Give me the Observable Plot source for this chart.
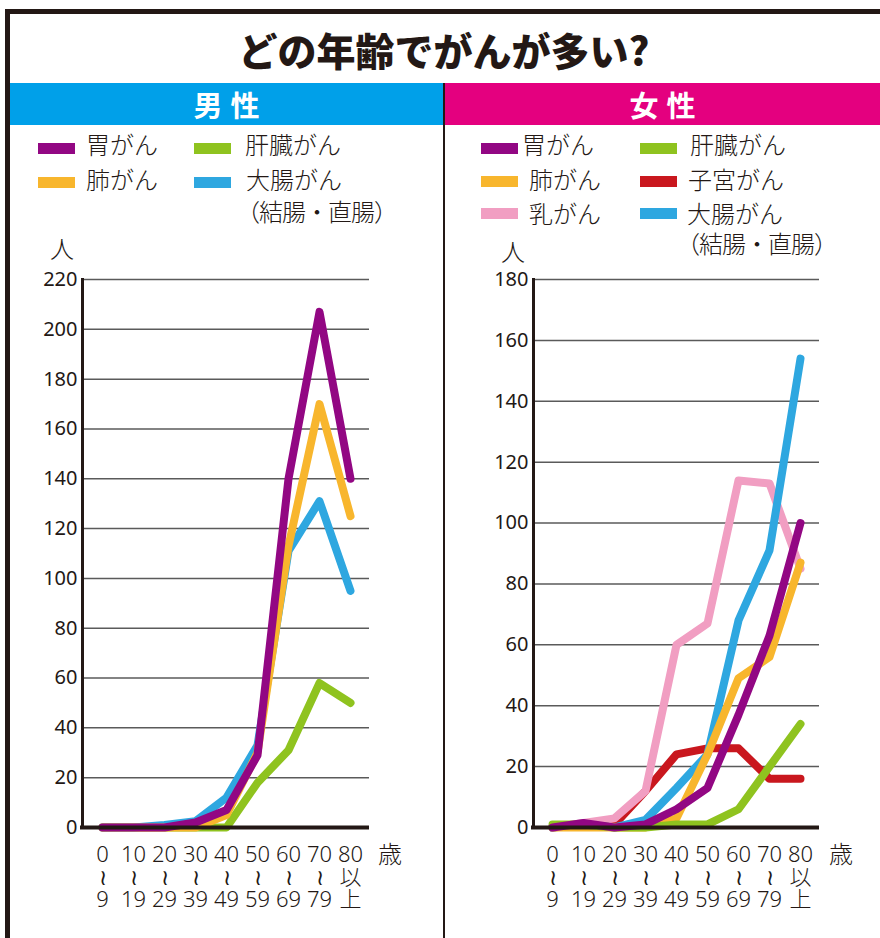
<!DOCTYPE html>
<html><head><meta charset="utf-8">
<script src="https://cdn.jsdelivr.net/npm/d3@7"></script>
<script src="https://cdn.jsdelivr.net/npm/@observablehq/plot@0.6"></script>
<style>
html,body{margin:0;padding:0;background:#fff;}
#page{position:relative;width:880px;height:938px;overflow:hidden;font-family:"Noto Sans CJK JP","Noto Sans",sans-serif;color:#231815;}
.abs{position:absolute;white-space:nowrap;}
.lg{position:absolute;white-space:nowrap;font-size:24px;line-height:24px;font-weight:300;}
.sw{position:absolute;width:37px;height:11px;}
.plot{position:absolute;top:240px;}
</style>
</head><body>
<div id="page">
  <div class="abs" style="left:5px;top:9px;width:880px;height:5px;background:#231815"></div>
  <div class="abs" style="left:5px;top:9px;width:5px;height:929px;background:#231815"></div>
  <div class="abs" style="left:0;width:888px;top:24px;font-size:39px;line-height:50px;font-weight:900;text-align:center;">どの年齢でがんが多い?</div>
  <div class="abs" style="left:10px;top:83px;width:433px;height:42px;background:#00a0e9"></div>
  <div class="abs" style="left:445px;top:83px;width:435px;height:42px;background:#e4007f"></div>
  <div class="abs" style="left:443px;top:83px;width:2px;height:855px;background:#231815"></div>
  <div class="abs" style="left:10px;top:83px;width:433px;padding-left:8px;box-sizing:border-box;text-align:center;color:#fff;font-size:29px;line-height:42px;font-weight:700;letter-spacing:8px;">男性</div>
  <div class="abs" style="left:445px;top:83px;width:435px;padding-left:8px;box-sizing:border-box;text-align:center;color:#fff;font-size:29px;line-height:42px;font-weight:700;letter-spacing:8px;">女性</div>
  <div id="legendM"></div>
  <div id="legendF"></div>
  <div class="lg" style="left:50px;top:236px;">人</div>
  <div class="lg" style="left:501px;top:239px;">人</div>
  <div class="lg" style="left:378px;top:841px;">歳</div>
  <div class="lg" style="left:829px;top:841px;">歳</div>
  <div id="plotM" class="plot" style="left:0px;"></div>
  <div id="plotF" class="plot" style="left:442px;"></div>
</div>
<script>
// ---- data ----
const ages = ["0-9","10-19","20-29","30-39","40-49","50-59","60-69","70-79","80+"];
const ageTop = ["0","10","20","30","40","50","60","70","80"];
const ageMid = ["≀","≀","≀","≀","≀","≀","≀","≀","以"];
const ageBottom = ["9","19","29","39","49","59","69","79","上"];

const maleYTicks = [0,20,40,60,80,100,120,140,160,180,200,220];
const femaleYTicks = [0,20,40,60,80,100,120,140,160,180];

// 男性
const maleStomach = [0,0,0,2,7,29,140,207,140];
const maleLung    = [0,0,0,0,5,30,113,170,125];
const maleColon   = [0,0,1,2.5,12,33,111,131,95];
const maleLiver   = [0,0,0,0,0,18,31,58,50];
// 女性
const femaleStomach = [0,1.5,0,1,6,13,37,63,100];
const femaleLung    = [0,0,0,0,3,24,49,56,87];
const femaleBreast  = [0,1.5,3,12,60,67,114,113,85];
const femaleUterus  = [0,1,1,12,24,26,26,16,16];
const femaleColon   = [0,1,0,2.5,13,24,68,91,154];
const femaleLiver   = [1,1,0,0,1,1,6,20,34];

const cStomach = "#920783", cLung = "#f8b62d", cLiver = "#8fc31f", cColon = "#2ea7e0", cBreast = "#f19ec2", cUterus = "#c9171e";

// legends
function legend(id, items){
  const el = document.getElementById(id);
  for (const it of items){
    if (it.color){
      const s = document.createElement("div"); s.className="sw";
      s.style.left = it.sx+"px"; s.style.top = it.sy+"px"; s.style.background = it.color;
      el.appendChild(s);
    }
    const t = document.createElement("div"); t.className="lg";
    t.style.left = it.tx+"px"; t.style.top = (it.ty-13)+"px"; t.textContent = it.label;
    if (it.ls) t.style.letterSpacing = it.ls;
    el.appendChild(t);
  }
}
legend("legendM", [
  {label:"胃がん", color:cStomach, sx:38, sy:143, tx:86, ty:145},
  {label:"肺がん", color:cLung, sx:38, sy:177, tx:86, ty:180},
  {label:"肝臓がん", color:cLiver, sx:194, sy:143, tx:245, ty:145},
  {label:"大腸がん", color:cColon, sx:194, sy:177, tx:246, ty:180},
  {label:"（結腸・直腸）", color:null, tx:236, ty:212, ls:"-1px"}
]);
legend("legendF", [
  {label:"胃がん", color:cStomach, sx:481, sy:143, tx:522, ty:145},
  {label:"肺がん", color:cLung, sx:481, sy:176, tx:529, ty:180},
  {label:"乳がん", color:cBreast, sx:481, sy:208, tx:529, ty:214},
  {label:"肝臓がん", color:cLiver, sx:640, sy:143, tx:690, ty:145},
  {label:"子宮がん", color:cUterus, sx:640, sy:176, tx:688, ty:180},
  {label:"大腸がん", color:cColon, sx:640, sy:208, tx:687, ty:214},
  {label:"（結腸・直腸）", color:null, tx:676, ty:244, ls:"-1px"}
]);

function chart(series, yTicks, yMax, width, mL, mR){
  const height = 698;
  const font = '"Noto Sans","Noto Sans CJK JP",sans-serif';
  const lineMarks = series.map(s => Plot.line(ages.map((a,i)=>({age:a, value:s.values[i]})), {
    x:"age", y:"value", stroke:s.color, strokeWidth:8, strokeLinecap:"round", strokeLinejoin:"round"
  }));
  return Plot.plot({
    width, height, marginLeft:mL, marginRight:mR, marginTop:39, marginBottom:111,
    style:{fontFamily:font, color:"#231815", background:"transparent", overflow:"visible"},
    x:{type:"point", domain:ages, padding:0.5, axis:null},
    y:{domain:[0,yMax], axis:null},
    marks:[
      Plot.ruleY(yTicks.filter(t=>t>0), {stroke:"#5a5a5a", strokeWidth:1.5}),
      Plot.axisY(yTicks, {label:null, tickSize:0, tickPadding:5, fontSize:20, fontFamily:font, fill:"#231815"}),
      Plot.text(ages, {
        x:d=>d, y:0, dy:50, lineAnchor:"middle", lineHeight:1.02,
        text:(d,i)=>ageTop[i]+"\n"+ageMid[i]+"\n"+ageBottom[i],
        fontSize:22, fontFamily:'"Noto Sans","DejaVu Sans","Noto Sans CJK JP",sans-serif', fontWeight:300,
        fill:"#231815", letterSpacing:"-1.5px"
      }),
      ...lineMarks,
      Plot.ruleY([0], {stroke:"#231815", strokeWidth:4, insetLeft:-2}),
      Plot.frame({anchor:"left", stroke:"#231815", strokeWidth:3})
    ]
  });
}

document.getElementById("plotM").appendChild(chart([
  {values:maleLiver, color:cLiver},
  {values:maleColon, color:cColon},
  {values:maleLung, color:cLung},
  {values:maleStomach, color:cStomach}
], maleYTicks, 220, 440, 82, 71));

document.getElementById("plotF").appendChild(chart([
  {values:femaleUterus, color:cUterus},
  {values:femaleBreast, color:cBreast},
  {values:femaleColon, color:cColon},
  {values:femaleLung, color:cLung},
  {values:femaleLiver, color:cLiver},
  {values:femaleStomach, color:cStomach}
], femaleYTicks, 180, 438, 91, 61));
</script>
</body></html>
